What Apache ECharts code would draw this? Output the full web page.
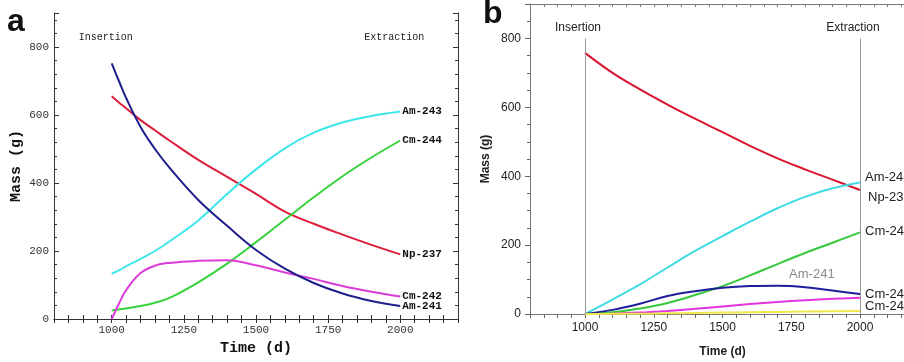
<!DOCTYPE html>
<html>
<head>
<meta charset="utf-8">
<script src="https://cdn.jsdelivr.net/npm/echarts@6/dist/echarts.min.js"></script>
<style>
  html, body { margin: 0; padding: 0; background: #fff; }
  #chart { width: 904px; height: 362px; }
</style>
</head>
<body>
<div id="chart"></div>
<script>
// panel a
const daysA = [1000, 1025, 1050, 1100, 1150, 1200, 1300, 1400, 1500, 1600, 1700, 1800, 1900, 2000]
const am241A = [752, 700, 650, 565, 500, 445, 350, 274, 203, 148, 106, 75, 53, 38]
const np237A = [655, 637, 620, 585, 555, 525, 468, 418, 368, 316, 280, 248, 218, 190]
const am243A = [133, 143, 155, 177, 200, 228, 290, 368, 440, 502, 548, 578, 597, 610]
const cm244A = [25, 28, 31, 38, 48, 62, 108, 163, 226, 292, 358, 420, 475, 525]
const cm242A = [0, 45, 85, 135, 157, 165, 171, 173, 158, 137, 118, 97, 80, 66]

// panel b
const daysB = [1000, 1100, 1200, 1300, 1400, 1500, 1600, 1700, 1800, 1900, 2000]
const np237B = [758, 700, 652, 608, 567, 528, 488, 452, 420, 390, 360]
const am243B = [0, 42, 86, 135, 183, 226, 268, 307, 340, 365, 382]
const cm244B = [0, 5, 16, 32, 55, 81, 112, 145, 177, 207, 237]
const am241B = [0, 12, 30, 52, 66, 76, 81, 82, 78, 68, 58]
const cm242B = [0, 1, 4, 9, 15, 22, 29, 35, 40, 44, 47]
const minorB = [0, 1, 1, 2, 3, 4, 5, 6, 7, 8, 9]

const events = ['Insertion', 'Extraction']
const eventDays = [1000, 2000]
const xTickLabels = [1000, 1250, 1500, 1750, 2000]

const pair = (xs, ys) => xs.map((x, i) => [x, ys[i]])
const xFmt = v => (xTickLabels.includes(v) ? String(v) : '')

const monoA = 'Liberation Mono, DejaVu Sans Mono, monospace'
const sansB = 'Liberation Sans, Arial, sans-serif'

const chart = echarts.init(document.getElementById('chart'))

const eventLines = (color, width, font) => ({
  silent: true,
  symbol: ['none', 'none'],
  lineStyle: { color, width, type: 'solid' },
  label: { show: true, position: 'end', formatter: p => p.name, color: '#222', distance: 5, ...font },
  data: eventDays.map((d, i) => [{ coord: [d, 0], name: events[i] }, { coord: [d, 800] }])
})

const lineA = (name, data, color, extra = {}) => ({
  name, type: 'line', xAxisIndex: 0, yAxisIndex: 0,
  data: pair(daysA, data), showSymbol: false, smooth: 0.4,
  lineStyle: { color, width: 2 }, itemStyle: { color },
  endLabel: { show: true, formatter: name, fontFamily: monoA, fontWeight: 'bold', fontSize: 11, color: '#111', distance: 2 },
  ...extra
})

const lineB = (name, data, color, offset, extra = {}) => ({
  name, type: 'line', xAxisIndex: 2, yAxisIndex: 2,
  data: pair(daysB, data), showSymbol: false, smooth: 0.4,
  lineStyle: { color, width: 2 }, itemStyle: { color },
  endLabel: { show: name !== '', formatter: name, fontFamily: sansB, fontSize: 13, color: '#222', distance: 5, offset },
  ...extra
})

const frameA = { lineStyle: { color: '#333', width: 1 } }
const frameB = { lineStyle: { color: '#777', width: 1 } }

chart.setOption({
  animation: false,
  grid: [
    { left: 54, top: 13, width: 404, height: 306, outerBoundsMode: 'none' },
    { left: 530, top: 4, width: 385, height: 310, outerBoundsMode: 'none' }
  ],
  xAxis: [
    {
      gridIndex: 0, type: 'value', position: 'bottom', min: 800, max: 2200, interval: 50,
      axisLine: frameA, axisTick: { inside: true, length: 4, lineStyle: { color: '#333' } },
      axisLabel: { formatter: xFmt, fontFamily: monoA, fontSize: 11, color: '#333', margin: 6 },
      splitLine: { show: false },
      name: 'Time (d)', nameLocation: 'middle', nameGap: 22,
      nameTextStyle: { fontFamily: monoA, fontWeight: 'bold', fontSize: 15, color: '#111' }
    },
    {
      gridIndex: 0, type: 'value', position: 'top', min: 800, max: 2200, interval: 50,
      axisLine: frameA, axisTick: { inside: true, length: 4, lineStyle: { color: '#333' } },
      axisLabel: { show: false }, splitLine: { show: false }
    },
    {
      gridIndex: 1, type: 'value', position: 'bottom', min: 800, max: 2200, interval: 50,
      axisLine: frameB, axisTick: { inside: false, length: 4, lineStyle: { color: '#666' } },
      axisLabel: { formatter: xFmt, fontFamily: sansB, fontSize: 12, color: '#222', margin: 8 },
      splitLine: { show: false },
      name: 'Time (d)', nameLocation: 'middle', nameGap: 32,
      nameTextStyle: { fontFamily: sansB, fontWeight: 'bold', fontSize: 12, color: '#222' }
    },
    {
      gridIndex: 1, type: 'value', position: 'top', min: 800, max: 2200, interval: 50,
      axisLine: frameB, axisTick: { inside: true, length: 3, lineStyle: { color: '#777' } },
      axisLabel: { show: false }, splitLine: { show: false }
    }
  ],
  yAxis: [
    {
      gridIndex: 0, type: 'value', position: 'left', min: 0, max: 900, interval: 200,
      axisLine: { show: true, ...frameA },
      axisTick: { inside: true, length: 5, lineStyle: { color: '#333' } },
      minorTick: { show: true, splitNumber: 5, length: 3, lineStyle: { color: '#333' } },
      axisLabel: { fontFamily: monoA, fontSize: 11, color: '#333', margin: 5, showMaxLabel: false },
      splitLine: { show: false },
      name: 'Mass (g)', nameLocation: 'middle', nameGap: 30,
      nameTextStyle: { fontFamily: monoA, fontWeight: 'bold', fontSize: 15, color: '#111' }
    },
    {
      gridIndex: 0, type: 'value', position: 'right', min: 0, max: 900, interval: 200,
      axisLine: { show: true, ...frameA },
      axisTick: { inside: true, length: 5, lineStyle: { color: '#333' } },
      minorTick: { show: true, splitNumber: 5, length: 3, lineStyle: { color: '#333' } },
      axisLabel: { show: false }, splitLine: { show: false }
    },
    {
      gridIndex: 1, type: 'value', position: 'left', min: 0, max: 900, interval: 200,
      axisLine: { show: true, ...frameB },
      axisTick: { inside: false, length: 5, lineStyle: { color: '#666' } },
      minorTick: { show: true, splitNumber: 4, length: 3, lineStyle: { color: '#666' } },
      axisLabel: { fontFamily: sansB, fontSize: 12, color: '#222', margin: 9, showMaxLabel: false },
      splitLine: { show: false },
      name: 'Mass (g)', nameLocation: 'middle', nameGap: 38,
      nameTextStyle: { fontFamily: sansB, fontWeight: 'bold', fontSize: 12, color: '#222' }
    }
  ],
  graphic: [
    { type: 'text', left: 7, top: 6, style: { text: 'a', font: 'bold 32px Liberation Sans', fill: '#111' } },
    { type: 'text', left: 483, top: -2, style: { text: 'b', font: 'bold 32px Liberation Sans', fill: '#111' } }
  ],
  series: [
    lineA('Np-237', np237A, '#dc1e3c', {
      markLine: eventLines('rgba(0,0,0,0)', 0, { fontFamily: monoA, fontSize: 10, padding: [0, 12, 0, 0] })
    }),
    lineA('Am-243', am243A, '#3ee6ec'),
    lineA('Cm-244', cm244A, '#36d23c'),
    lineA('Cm-242', cm242A, '#dc3cd8'),
    lineA('Am-241', am241A, '#1e1e8c'),

    lineB('Np-237', np237B, '#d8142e', [3, 7], {
      markLine: eventLines('#9a9a9a', 1, { fontFamily: sansB, fontSize: 12, padding: [0, 14, 0, 0] })
    }),
    lineB('Am-243', am243B, '#40dce4', [0, -5]),
    lineB('Cm-244', cm244B, '#34c83a', [0, -1]),
    lineB('Cm-242', am241B, '#1e1e9a', [0, 0], {
      markPoint: {
        symbol: 'circle', symbolSize: 0, silent: true,
        label: { show: true, position: 'inside', formatter: 'Am-241', color: '#8a8a8a', fontFamily: sansB, fontSize: 13 },
        data: [{ coord: [1825, 116] }]
      }
    }),
    lineB('Cm-245', cm242B, '#e234dc', [0, 9]),
    lineB('', minorB, '#eee84a', [0, 0])
  ]
})
</script>
</body>
</html>
